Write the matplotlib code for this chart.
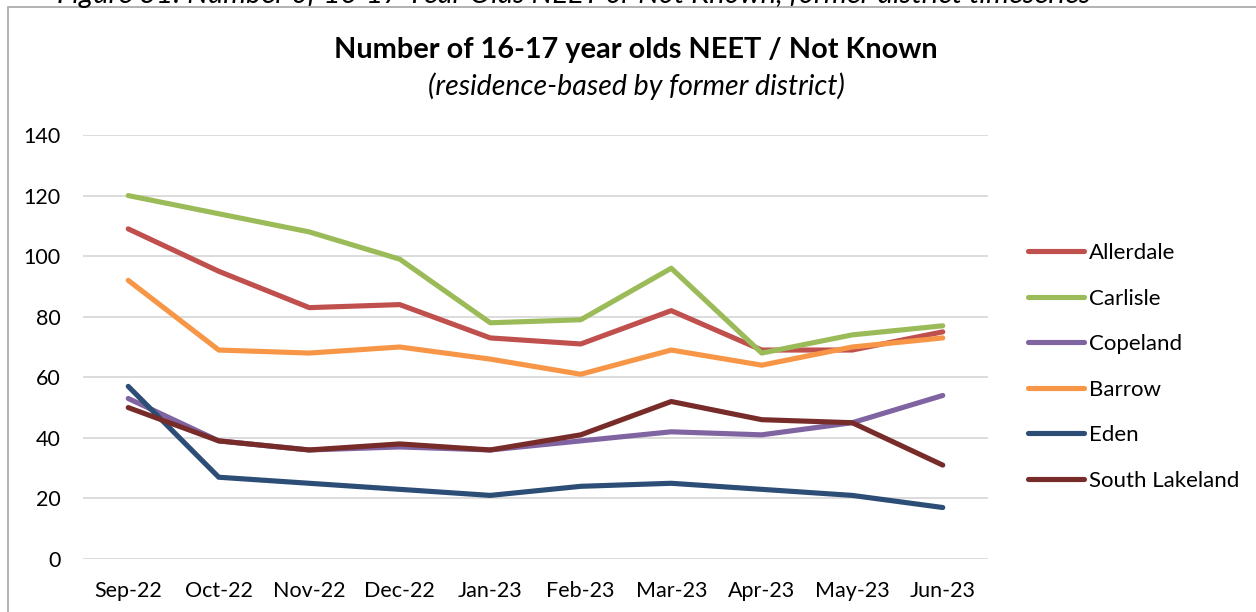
import matplotlib
matplotlib.use("Agg")
import matplotlib.pyplot as plt
from matplotlib.patches import Rectangle

# data
months = ["Sep-22", "Oct-22", "Nov-22", "Dec-22", "Jan-23",
          "Feb-23", "Mar-23", "Apr-23", "May-23", "Jun-23"]

allerdale = [109, 95, 83, 84, 73, 71, 82, 69, 69, 75]
carlisle = [120, 114, 108, 99, 78, 79, 96, 68, 74, 77]
copeland = [53, 39, 36, 37, 36, 39, 42, 41, 45, 54]
barrow = [92, 69, 68, 70, 66, 61, 69, 64, 70, 73]
eden = [57, 27, 25, 23, 21, 24, 25, 23, 21, 17]
south_lakeland = [50, 39, 36, 38, 36, 41, 52, 46, 45, 31]

series = [
    ("Allerdale", allerdale, "#C0504D"),
    ("Carlisle", carlisle, "#9BBB59"),
    ("Copeland", copeland, "#8064A2"),
    ("Barrow", barrow, "#F79646"),
    ("Eden", eden, "#2C4D75"),
    ("South Lakeland", south_lakeland, "#772C2A"),
]

plt.rcParams['font.family'] = ['Lato', 'DejaVu Sans']

W, H = 1256, 612
fig = plt.figure(figsize=(W / 100, H / 100), dpi=100)

# chart frame (runs off the right and bottom of the crop)
fig.patches.append(Rectangle((8 / W, -0.1), 1.2, (H - 7) / H + 0.1,
                             transform=fig.transFigure, fill=False,
                             edgecolor="#A6A6A6", linewidth=1.2))

# caption of the document, mostly cut off at the top
fig.text(57 / W, 1 - 3 / H,
         "Figure 31: Number of 16-17 Year Olds NEET or Not Known, former district timeseries",
         fontsize=21, style="italic", va="baseline", ha="left", color="black")

ax = fig.add_axes([83 / W, 53 / H, (988 - 83) / W, (559 - 135) / H])
x = list(range(len(months)))
for name, vals, col in series:
    ax.plot(x, vals, color=col, linewidth=3.7, solid_capstyle="round",
            solid_joinstyle="round", label=name)

ax.set_xlim(-0.5, len(months) - 0.5)
ax.set_ylim(0, 140)
ax.set_yticks(range(0, 141, 20))
ax.set_xticks(x)
ax.set_xticklabels(months)
ax.grid(axis="y", color="#D9D9D9", linewidth=1.3)
ax.set_axisbelow(True)
for s in ax.spines.values():
    s.set_visible(False)
ax.tick_params(length=0, labelsize=15.5, colors="black")
ax.tick_params(axis="y", pad=16)
ax.tick_params(axis="x", pad=16)

fig.text(636 / W, 1 - 58 / H,
         "Number of 16-17 year olds NEET / Not Known",
         fontsize=20.8, fontweight="bold", ha="center", va="baseline")
fig.text(636 / W, 1 - 95 / H,
         "(residence-based by former district)",
         fontsize=20.5, style="italic", ha="center", va="baseline")

fig.legend(loc="upper left", bbox_to_anchor=(1008 / W, 1 - 223 / H),
           frameon=False, fontsize=16, handlelength=2.5,
           handletextpad=0.25, labelspacing=1.15)

fig.savefig("out.png", dpi=100)
